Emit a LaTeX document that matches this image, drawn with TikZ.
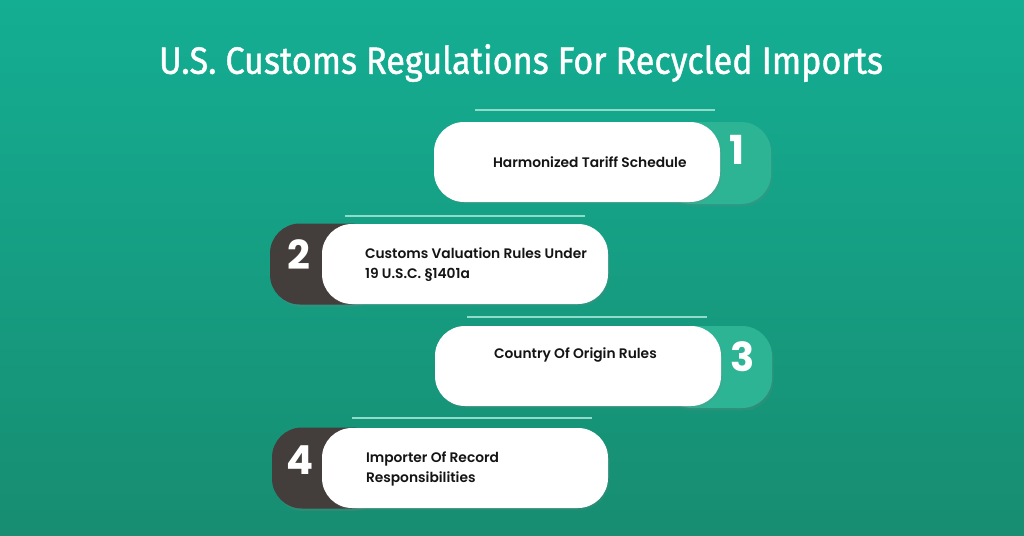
\documentclass[tikz,border=0pt]{standalone}
\usepackage{fontspec}
\setmainfont{Poppins}[BoldFont={Poppins SemiBold}]
\newfontfamily\numfont{Poppins}
\newfontfamily\titlefont{Fira Sans}[FakeBold=1.2]
\usetikzlibrary{positioning,shadows}
\definecolor{bgtop}{HTML}{14AE93}
\definecolor{bgbot}{HTML}{178D71}
\definecolor{tabteal}{HTML}{2DB494}
\definecolor{tabdark}{HTML}{433E3C}
\definecolor{rulecol}{HTML}{8FDCCB}
\tikzset{
  card/.style={fill=white, rounded corners=30pt, minimum width=286pt, minimum height=80pt,
    inner sep=0pt, drop shadow={opacity=0.18, shadow xshift=1.5pt, shadow yshift=-2pt}},
  tealtab/.style={fill=tabteal, rounded corners=30pt, minimum width=110pt, minimum height=82pt,
    inner sep=0pt, drop shadow={opacity=0.2, shadow xshift=1.5pt, shadow yshift=-2.5pt}},
  darktab/.style={fill=tabdark, rounded corners=30pt, minimum width=110pt, minimum height=81pt,
    inner sep=0pt, drop shadow={opacity=0.2, shadow xshift=1.5pt, shadow yshift=-2.5pt}},
  cardtext/.style={font=\fontsize{13.8}{20}\selectfont\bfseries, text=black!92, align=left, inner sep=0pt},
  numtext/.style={font=\numfont\fontsize{40}{40}\selectfont\bfseries, text=white, inner sep=0pt},
  toprule/.style={draw=rulecol, line width=1.3pt}
}
\begin{document}
\begin{tikzpicture}[x=1pt, y=-1pt]
  % background
  \shade[top color=bgtop, bottom color=bgbot] (0,0) rectangle (1024,535);
  \useasboundingbox (0,0) rectangle (1024,535);

  \node[font=\titlefont\fontsize{38}{38}\selectfont, text=white] (title) at (521,63)
    {\scalebox{0.9}[1]{U.S. Customs Regulations For Recycled Imports}};

  % 1
  \draw[toprule] (475,110) -- (715,110);
  \node[tealtab] (t1) at (716,163) {};
  \node[card] (c1) at (577,162) {};
  \node[numtext] (n1) at (737,150) {1};
  \node[cardtext, right=59pt of c1.west] (l1) {Harmonized Tariff Schedule};

  % 2
  \draw[toprule] (345,216) -- (585,216);
  \node[darktab] (t2) at (325,264) {};
  \node[card] (c2) at (465,264) {};
  \node[numtext] (n2) at (299,255) {2};
  \node[cardtext, right=43pt of c2.west, yshift=-0.5pt] (l2) {Customs Valuation Rules Under\\19 U.S.C. §1401a};

  % 3
  \draw[toprule] (467,317) -- (707,317);
  \node[tealtab] (t3) at (717,367) {};
  \node[card] (c3) at (578,366) {};
  \node[numtext] (n3) at (743,357) {3};
  \node[cardtext, right=59pt of c3.west, yshift=11pt] (l3) {Country Of Origin Rules};

  % 4
  \draw[toprule] (352,418) -- (592,418);
  \node[darktab] (t4) at (327,468) {};
  \node[card] (c4) at (465,468) {};
  \node[numtext] (n4) at (300,460) {4};
  \node[cardtext, right=44pt of c4.west, yshift=-0.5pt] (l4) {Importer Of Record\\Responsibilities};
\end{tikzpicture}
\end{document}
